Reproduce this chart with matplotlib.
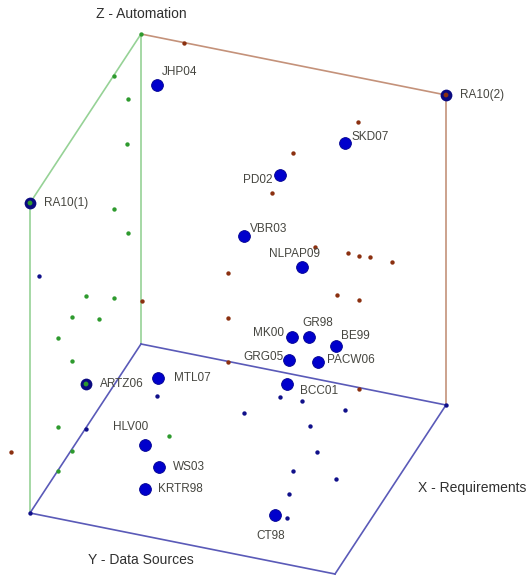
import matplotlib.pyplot as plt

plt.rcParams['font.family'] = ['Liberation Sans', 'DejaVu Sans']

W, H = 529, 576

# box corners (screen positions)
top_back = (141, 34)
top_right = (446, 95)
top_left = (30, 203)
bot_back = (141, 344)
bot_left = (30, 513)
bot_right = (446, 405)
bot_front = (335, 574)

# labelled studies (large blue dots)
study_names = ['JHP04', 'SKD07', 'PD02', 'VBR03', 'NLPAP09', 'MK00', 'GR98', 'BE99',
               'GRG05', 'PACW06', 'BCC01', 'MTL07', 'HLV00', 'WS03', 'KRTR98', 'CT98']
study_x = [157, 345, 280, 244, 302, 292, 309, 336, 289, 318, 287, 158, 145, 159, 145, 275]
study_y = [85, 143, 175, 236, 267, 337, 337, 346, 360, 362, 384, 378, 445, 467, 489, 515]
label_x = [162, 351, 273, 250, 294, 284, 318, 341, 284, 327, 300, 174, 131, 173, 158, 271]
label_y = [72, 137, 180, 229, 254, 333, 323, 336, 357, 360, 391, 378, 427, 467, 489, 536]
label_ha = ['left', 'left', 'right', 'left', 'center', 'right', 'center', 'left',
            'right', 'left', 'left', 'left', 'center', 'left', 'left', 'center']

# studies on box corners (ringed dots)
ring_names = ['RA10(1)', 'RA10(2)', 'ARTZ06']
ring_x = [30, 446, 86]
ring_y = [203, 95, 384]
ring_inner = ['#2e9a2e', '#8b3010', '#2e9a2e']
ring_label_x = [44, 460, 100]

# projections on the Y-Z plane (green)
green_x = [141, 114, 128, 127, 114, 128, 86, 114, 72, 99, 58, 72, 58, 72, 58, 169]
green_y = [34, 76, 99, 144, 209, 233, 296, 298, 317, 319, 338, 361, 427, 451, 471, 436]

# projections on the X-Z plane (brown)
brown_x = [184, 358, 293, 272, 315, 348, 359, 370, 392, 228, 142, 228, 228, 11, 337, 359, 359]
brown_y = [43, 122, 153, 193, 247, 253, 256, 257, 262, 273, 301, 318, 362, 452, 295, 300, 389]

# projections on the X-Y plane (blue)
blue_x = [39, 157, 244, 86, 30, 280, 302, 345, 310, 317, 293, 336, 289, 287, 446]
blue_y = [276, 396, 413, 429, 513, 397, 401, 410, 426, 452, 471, 479, 494, 518, 405]

fig = plt.figure(figsize=(W / 100, H / 100), dpi=100)
ax = fig.add_axes([0, 0, 1, 1])
ax.set_xlim(0, W)
ax.set_ylim(H, 0)
ax.axis('off')

green_line = '#96d296'
brown_line = '#c4927a'
blue_line = '#5a5ab8'


def edge(p, q, c):
    ax.plot([p[0], q[0]], [p[1], q[1]], color=c, lw=1.2, zorder=1)


edge(top_back, top_left, green_line)
edge(top_left, bot_left, green_line)
edge(top_back, bot_back, green_line)
edge(top_back, top_right, brown_line)
edge(top_right, bot_right, brown_line)
edge(bot_back, bot_left, blue_line)
edge(bot_back, bot_right, blue_line)
edge(bot_right, bot_front, blue_line)
edge(bot_left, bot_front, blue_line)

ax.scatter(green_x, green_y, s=10, color='#2e9a2e', zorder=3, linewidths=0)
ax.scatter(brown_x, brown_y, s=10, color='#8b3010', zorder=3, linewidths=0)
ax.scatter(blue_x, blue_y, s=10, color='#10108a', zorder=3, linewidths=0)

ax.scatter(study_x, study_y, s=72, color='#0000cc', edgecolors='#000090',
           linewidths=0.6, zorder=4)

ax.scatter(ring_x, ring_y, s=72, color='#0a0a80', zorder=4, linewidths=0)
ax.scatter(ring_x, ring_y, s=12, color=ring_inner, zorder=5, linewidths=0)

txt = '#464640'
for name, lx, ly, ha in zip(study_names, label_x, label_y, label_ha):
    ax.text(lx, ly, name, fontsize=8.5, color=txt, ha=ha, va='center', zorder=6)
for name, lx, ly in zip(ring_names, ring_label_x, ring_y):
    ax.text(lx, ly, name, fontsize=8.5, color=txt, ha='left', va='center', zorder=6)

ax.text(141, 14, 'Z - Automation', fontsize=10, color='#303030', ha='center', va='center')
ax.text(141, 560, 'Y - Data Sources', fontsize=10, color='#303030', ha='center', va='center')
ax.text(526, 488, 'X - Requirements', fontsize=10, color='#303030', ha='right', va='center')

fig.savefig('out.png', dpi=100)
